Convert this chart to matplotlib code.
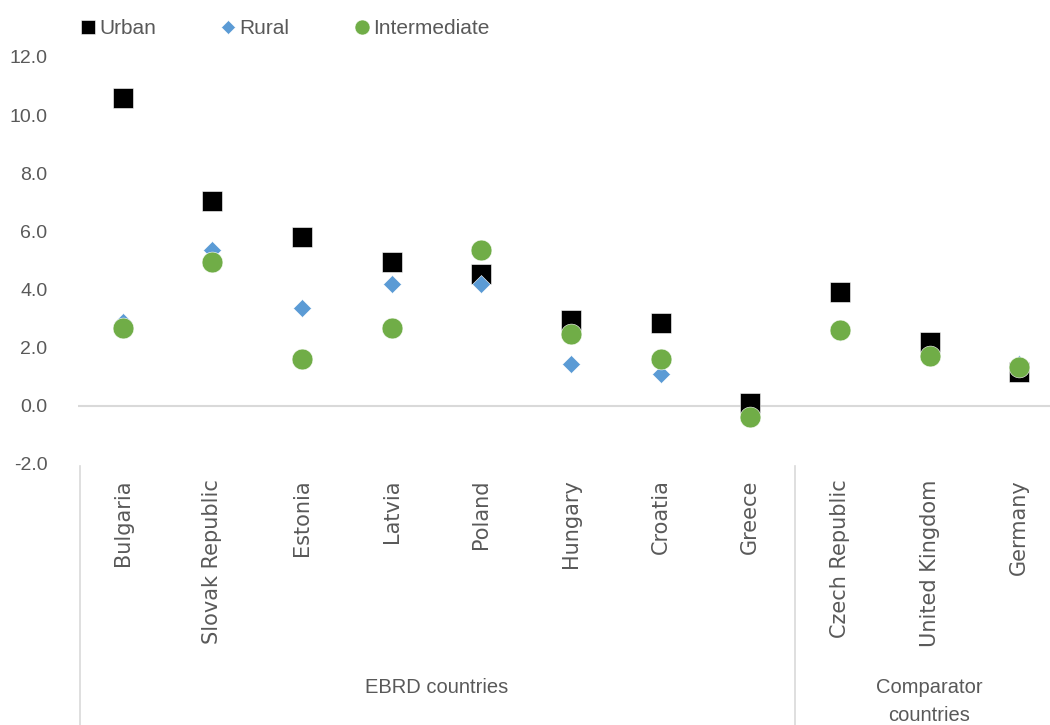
import matplotlib.pyplot as plt
from matplotlib.transforms import blended_transform_factory

countries = ["Bulgaria", "Slovak Republic", "Estonia", "Latvia", "Poland", "Hungary",
             "Croatia", "Greece", "Czech Republic", "United Kingdom", "Germany"]
urban = [10.6, 7.05, 5.8, 4.95, 4.55, 2.95, 2.85, 0.1, 3.9, 2.2, 1.15]
rural = [2.9, 5.35, 3.35, 4.2, 4.2, 1.45, 1.1, -0.37, 2.55, 1.7, 1.45]
intermediate = [2.68, 4.95, 1.6, 2.67, 5.35, 2.47, 1.6, -0.37, 2.6, 1.72, 1.35]
groups = [("EBRD countries", 0, 7), ("Comparator\ncountries", 8, 10)]
yticks = [-2, 0, 2, 4, 6, 8, 10, 12]

grey = "#595959"
plt.rcParams["font.family"] = ["DejaVu Sans"]

fig = plt.figure(figsize=(10.5, 7.25), dpi=100)
ax = fig.add_axes([0.0743, 0.36, 0.939, 0.5614])

x = list(range(len(countries)))
ax.plot(x, urban, "s", color="black", markersize=14.5, markeredgecolor="white",
        markeredgewidth=0.4, label="Urban", zorder=3)
ax.plot(x, rural, "D", color="#5B9BD5", markersize=9.5, markeredgecolor="white",
        markeredgewidth=0.4, label="Rural", zorder=4)
ax.plot(x, intermediate, "o", color="#70AD47", markersize=15, markeredgecolor="white",
        markeredgewidth=0.4, label="Intermediate", zorder=5)

ax.axhline(0, color="#D9D9D9", linewidth=1.5, zorder=1)
ax.set_xlim(-0.5, len(countries) - 0.5)
ax.set_ylim(-2, 12)
ax.set_yticks(yticks)
ax.set_yticklabels([f"{v:.1f}" for v in yticks], fontsize=14, color=grey,
                   family="Liberation Sans")
ax.set_xticks(x)
ax.set_xticklabels(countries, rotation=90, fontsize=15, color=grey)
ax.tick_params(axis="y", length=0, pad=22)
ax.tick_params(axis="x", length=0, pad=11)
for s in ax.spines.values():
    s.set_visible(False)

# group separators and labels below the axis
trans = blended_transform_factory(ax.transData, ax.transAxes)
for xs in [-0.48, 7.5]:
    ax.plot([xs, xs], [-0.005, -0.67], transform=trans, color="#D9D9D9",
            linewidth=1.2, clip_on=False)
for name, a, b in groups:
    ax.text((a + b) / 2, -0.525, name, transform=trans, ha="center", va="top",
            fontsize=14.5, color=grey, family="Liberation Sans", linespacing=1.6)

fig.legend(loc="center left", bbox_to_anchor=(0.059, 0.96), ncol=3, frameon=False,
           labelcolor=grey, handlelength=0.7, handletextpad=0.2, columnspacing=3.1,
           markerscale=0.72, prop={"family": "Liberation Sans", "size": 15})

fig.savefig("out.png", dpi=100)
